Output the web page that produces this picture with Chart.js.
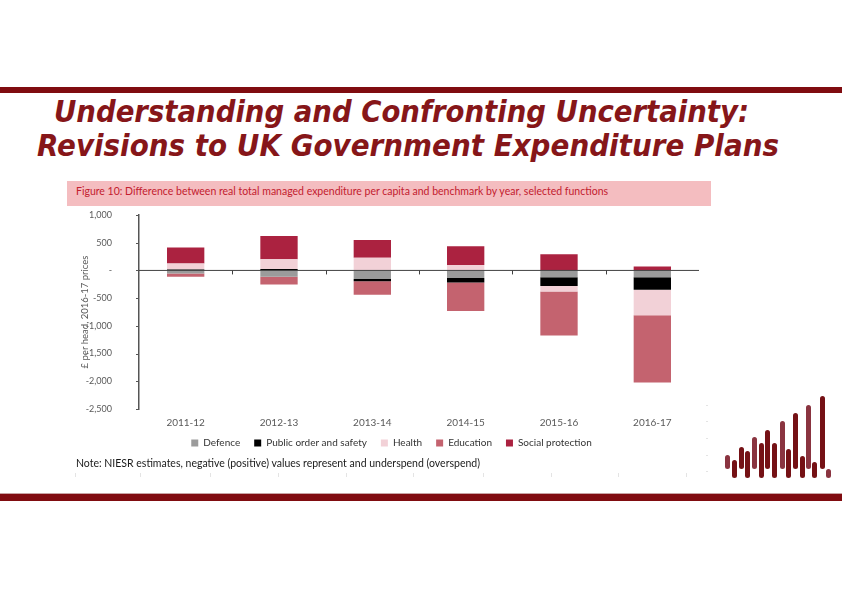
<!DOCTYPE html>
<html><head><meta charset="utf-8">
<script src="https://cdn.jsdelivr.net/npm/chart.js@4.4.0/dist/chart.umd.min.js"></script>
<style>
html,body{margin:0;padding:0;background:#fff;}
body{width:842px;height:596px;position:relative;overflow:hidden;font-family:Lato,"Open Sans",sans-serif;}
.band{position:absolute;left:0;width:842px;background:#800c10;}
.title{position:absolute;white-space:nowrap;font-family:"DejaVu Sans",Verdana,sans-serif;font-weight:bold;font-style:italic;font-size:30px;line-height:30px;color:#861619;transform-origin:0 0;}
#fig{position:absolute;left:67px;top:181px;width:644px;height:25px;background:#f4bdc0;color:#c3202e;font-size:10.5px;line-height:12px;box-sizing:border-box;padding:4px 0 0 9px;white-space:nowrap;}
#note{position:absolute;left:76px;top:457px;font-size:10.5px;color:#1a1a1a;white-space:nowrap;}
#chartBox{position:absolute;left:60px;top:205px;width:658px;height:258px;}
.lg{position:absolute;width:5px;border-radius:3px;}
.fm{position:absolute;background:#e4e4e4;}
</style></head><body>
<div class="band" style="top:87px;height:6px"></div>
<div class="band" style="top:494px;height:7px;box-shadow:0 -1px 0 #c8a4a4"></div>
<div id="t1" class="title">Understanding and Confronting Uncertainty:</div>
<div id="t2" class="title">Revisions to UK Government Expenditure Plans</div>
<div id="fig">Figure 10: Difference between real total managed expenditure per capita and benchmark by year, selected functions</div>
<div id="chartBox"><canvas id="c" width="658" height="258"></canvas></div>
<div id="note">Note: NIESR estimates, negative (positive) values represent and underspend (overspend)</div>
<div id="deco"></div>
<script>
// ---- data ----
const categories = ['2011-12','2012-13','2013-14','2014-15','2015-16','2016-17'];
const defence = [-55, -115, -153, -135, -122, -122];
const publicOrder = [15, 25, -42, -84, -159, -225];
const health = [110, 175, 230, 97, -97, -463];
const education = [-60, -139, -243, -511, -797, -1210];
const socialProtection = [290, 422, 318, 341, 292, 69];
const yTicks = [1000, 500, 0, -500, -1000, -1500, -2000, -2500];
const seriesNames = ['Defence', 'Public order and safety', 'Health', 'Education', 'Social protection'];
const seriesColors = ['#9b9b9b', '#000000', '#f2d1d7', '#c4636f', '#ab2240'];

// ---- titles fitted to width ----
function fit(id, left, width, top){
  const el = document.getElementById(id);
  el.style.left = left + 'px'; el.style.top = top + 'px';
  const w = el.getBoundingClientRect().width;
  el.style.transform = 'scaleX(' + (width / w) + ')';
}
fit('t1', 54, 695, 97);
fit('t2', 37, 742, 131);

// ---- decoration (logo and faint marks) ----
const deco = document.getElementById('deco');
const upX = [727, 741, 754, 767, 782, 795, 808, 822];
const upTop = [455, 447, 437, 430, 421, 413, 405, 396];
const loX = [734, 747, 761, 774, 788, 802, 814, 828];
const loTop = [460, 451, 443, 443, 449, 456, 462, 469];
upX.forEach((x, i) => {
  const d = document.createElement('div'); d.className = 'lg';
  d.style.left = (x - 2.5) + 'px'; d.style.top = upTop[i] + 'px'; d.style.height = (469 - upTop[i]) + 'px';
  d.style.background = i % 2 === 0 ? '#8a3440' : '#751115';
  deco.appendChild(d);
});
loX.forEach((x, i) => {
  const d = document.createElement('div'); d.className = 'lg';
  d.style.left = (x - 2.5) + 'px'; d.style.top = loTop[i] + 'px'; d.style.height = (478 - loTop[i]) + 'px';
  d.style.background = i === 7 ? '#8a3440' : '#751115';
  deco.appendChild(d);
});
[75, 140, 210, 278, 346, 413, 483, 551, 618, 686].forEach(x => {
  const d = document.createElement('div'); d.className = 'fm';
  d.style.left = x + 'px'; d.style.top = '473px'; d.style.width = '1px'; d.style.height = '4px';
  deco.appendChild(d);
});
[405, 421, 438, 455, 471].forEach(y => {
  const d = document.createElement('div'); d.className = 'fm';
  d.style.left = '706px'; d.style.top = y + 'px'; d.style.width = '2px'; d.style.height = '1px';
  deco.appendChild(d);
});

// ---- chart ----
const seriesData = [defence, publicOrder, health, education, socialProtection];
const axisMarks = {
  id: 'axisMarks',
  afterLayout(chart) {
    const lg = chart.legend;
    if (lg) { lg.left += 12; lg.right += 12; lg.top -= 5; lg.bottom -= 5; }
  },
  afterDatasetsDraw(chart) {
    const {ctx, chartArea, scales} = chart;
    const y0 = scales.y.getPixelForValue(0);
    const ax = chartArea.left;
    ctx.save();
    ctx.strokeStyle = '#404040';
    ctx.lineWidth = 1;
    ctx.beginPath();
    ctx.moveTo(chartArea.left, y0); ctx.lineTo(chartArea.right, y0);
    for (let i = 0; i < categories.length - 1; i++) {
      const xb = Math.round((scales.x.getPixelForValue(i) + scales.x.getPixelForValue(i + 1)) / 2) + 0.5;
      ctx.moveTo(xb, y0); ctx.lineTo(xb, y0 + 4);
    }
    ctx.stroke();
    ctx.strokeStyle = '#555';
    ctx.beginPath();
    yTicks.forEach(v => {
      const yy = Math.round(scales.y.getPixelForValue(v)) + 0.5;
      ctx.moveTo(ax - 3, yy); ctx.lineTo(ax, yy);
    });
    ctx.stroke();
    ctx.restore();
  }
};

new Chart(document.getElementById('c'), {
  type: 'bar',
  data: {
    labels: categories,
    datasets: seriesNames.map((n, i) => ({
      label: n,
      data: seriesData[i],
      backgroundColor: seriesColors[i],
      borderWidth: 0,
      barPercentage: 0.4,
      categoryPercentage: 1.0
    }))
  },
  options: {
    responsive: false,
    animation: false,
    layout: { padding: { left: 0, right: 19, top: 10, bottom: 0 } },
    plugins: {
      tooltip: { enabled: false },
      legend: {
        position: 'bottom',
        labels: { boxWidth: 7, boxHeight: 7, padding: 14, color: '#333', font: { family: 'Lato', size: 10 } }
      }
    },
    scales: {
      x: {
        stacked: true,
        afterFit: s => { s.height = 20; },
        grid: { display: false, drawTicks: false },
        border: { display: false },
        ticks: { color: '#595959', padding: 8, font: { family: 'Lato', size: 10 } }
      },
      y: {
        stacked: true,
        min: -2500, max: 1000,
        afterBuildTicks: s => { s.ticks = yTicks.map(v => ({ value: v })); },
        afterFit: s => { s.width = 79; },
        grid: { display: false, drawTicks: true, tickLength: 27 },
        border: { display: true, color: '#555', width: 1.5 },
        ticks: {
          color: '#595959', padding: 0, font: { family: 'Lato', size: 9 },
          callback: v => v === 0 ? '-' : v.toLocaleString('en-US')
        },
        title: { display: true, text: '£ per head, 2016-17 prices', color: '#595959', font: { family: 'Lato', size: 9.5 }, padding: { top: 19, bottom: 0 } }
      }
    }
  },
  plugins: [axisMarks]
});
</script>
</body></html>
